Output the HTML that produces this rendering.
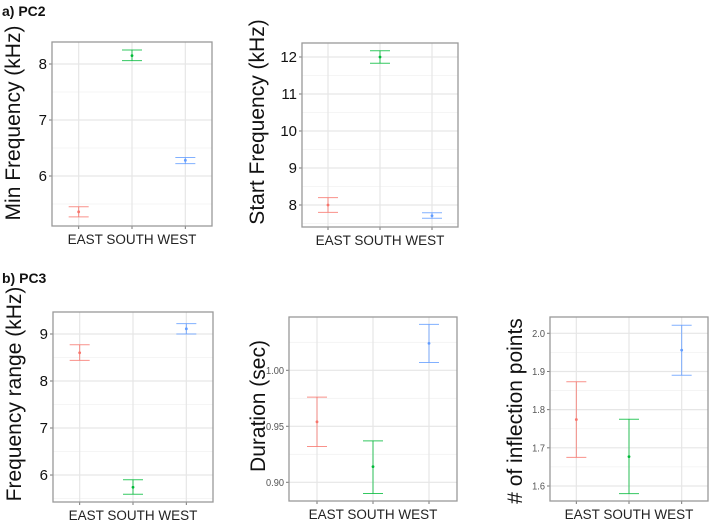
<!DOCTYPE html>
<html><head><meta charset="utf-8"><style>
html,body{margin:0;padding:0;background:#fff;}
svg{display:block;font-family:"Liberation Sans",sans-serif;}
</style></head><body>
<svg id="c" width="709" height="523" viewBox="0 0 709 523">
<text x="2" y="16" font-size="14" font-weight="bold" fill="#111">a) PC2</text>
<text x="2" y="283" font-size="14" font-weight="bold" fill="#111">b) PC3</text>
</svg>
<script>
const categories = ["EAST","SOUTH","WEST"];
const colors = ["#F8766D","#00BA38","#619CFF"];
// Min Frequency
const minFreqMean = [5.36, 8.15, 6.28];
const minFreqLo = [5.27, 8.06, 6.22];
const minFreqHi = [5.45, 8.25, 6.33];
const minFreqTicks = [6, 7, 8];
// Start Frequency
const startFreqMean = [8.0, 12.0, 7.71];
const startFreqLo = [7.8, 11.83, 7.64];
const startFreqHi = [8.2, 12.17, 7.79];
const startFreqTicks = [8, 9, 10, 11, 12];
// Frequency range
const rangeMean = [8.60, 5.74, 9.11];
const rangeLo = [8.44, 5.59, 9.0];
const rangeHi = [8.77, 5.90, 9.22];
const rangeTicks = [6, 7, 8, 9];
// Duration
const durMean = [0.954, 0.914, 1.024];
const durLo = [0.932, 0.890, 1.007];
const durHi = [0.976, 0.937, 1.041];
const durTicks = ["0.90", "0.95", "1.00"];
// Inflection points
const inflMean = [1.774, 1.677, 1.956];
const inflLo = [1.675, 1.58, 1.89];
const inflHi = [1.873, 1.775, 2.021];
const inflTicks = ["1.6", "1.7", "1.8", "1.9", "2.0"];

const NS = "http://www.w3.org/2000/svg";
const svg = document.getElementById("c");
function mk(tag, attrs, parent){
  const e = document.createElementNS(NS, tag);
  for (const k in attrs) e.setAttribute(k, attrs[k]);
  (parent||svg).appendChild(e);
  return e;
}
function panel(name, box, dom, ticks, mean, lo, hi, title, titleX, titleY, big){
  const g = mk("g", {});
  
  
  const y = v => box.b - (v - dom[0]) / (dom[1] - dom[0]) * (box.b - box.t);
  const step = (box.r - box.l) / 3;
  const x = i => box.l + step * (i + 0.5);
  const tv = ticks.map(Number);
  const d = tv[1] - tv[0];
  for (let v = tv[0] - d/2; v <= dom[1]; v += d) {
    if (v < dom[0]) continue;
    mk("line", {x1: box.l, x2: box.r, y1: y(v), y2: y(v), stroke: "#f2f2f2", "stroke-width": 0.8}, g);
  }
  ticks.forEach(t => {
    const yy = y(Number(t));
    const gl = mk("line", {x1: box.l, x2: box.r, y1: yy, y2: yy, stroke: "#e6e6e6", "stroke-width": 1.2}, g);
    
    
    mk("line", {x1: box.l - 3, x2: box.l, y1: yy, y2: yy, stroke: "#777", "stroke-width": 1}, g);
    const tl = mk("text", {x: box.l - 5, y: yy + (big ? 5 : 3.5), "text-anchor": "end",
      "font-size": big ? 15 : 10.5, fill: big ? "#111" : "#555"}, g);
    if (!big) tl.setAttribute("transform", "translate(" + (box.l - 5) + ",0) scale(0.88,1) translate(" + (-(box.l - 5)) + ",0)");
    tl.textContent = t;
    
    
  });
  categories.forEach((c, i) => {
    mk("line", {x1: x(i), x2: x(i), y1: box.t, y2: box.b, stroke: "#e6e6e6", "stroke-width": 1.2}, g);
    mk("line", {x1: x(i), x2: x(i), y1: box.b, y2: box.b + 3, stroke: "#777", "stroke-width": 1}, g);
  });
  const fr = mk("rect", {x: box.l, y: box.t, width: box.r - box.l, height: box.b - box.t, fill: "none", stroke: "#999", "stroke-width": 1.3}, g);
  
  
  categories.forEach((c, i) => {
    const eb = mk("g", {stroke: colors[i], "stroke-width": 1, "stroke-opacity": 0.8, fill: "none"}, g);
    
    
    mk("line", {x1: x(i), x2: x(i), y1: y(hi[i]), y2: y(lo[i])}, eb);
    mk("line", {x1: x(i) - 10, x2: x(i) + 10, y1: y(hi[i]), y2: y(hi[i])}, eb);
    mk("line", {x1: x(i) - 10, x2: x(i) + 10, y1: y(lo[i]), y2: y(lo[i])}, eb);
    const pt = mk("circle", {cx: x(i), cy: y(mean[i]), r: 1.4, fill: colors[i], stroke: "none"}, g);
    
    
  });
  const xl = mk("text", {x: (box.l + box.r) / 2, y: box.b + 18, "text-anchor": "middle", "font-size": 13.5, fill: "#222"}, g);
  xl.textContent = categories.join(" ");
  
  
  const yt = mk("text", {x: 0, y: 0, "text-anchor": "middle", "font-size": 21, fill: "#111",
    transform: "translate(" + titleX + "," + titleY + ") rotate(-90)"}, g);
  yt.textContent = title;
  
  
}
panel("panel-min-frequency", {l: 52, r: 212, t: 42, b: 226}, [5.107, 8.393], minFreqTicks, minFreqMean, minFreqLo, minFreqHi, "Min Frequency (kHz)", 20, 123, true);
panel("panel-start-frequency", {l: 302, r: 458, t: 43, b: 227}, [7.405, 12.378], startFreqTicks, startFreqMean, startFreqLo, startFreqHi, "Start Frequency (kHz)", 264, 122, true);
panel("panel-frequency-range", {l: 53, r: 213, t: 312, b: 502}, [5.426, 9.468], rangeTicks, rangeMean, rangeLo, rangeHi, "Frequency range (kHz)", 21, 394, true);
panel("panel-duration", {l: 289, r: 457, t: 317, b: 501}, [0.8833, 1.0476], durTicks, durMean, durLo, durHi, "Duration (sec)", 265, 406, false);
panel("panel-inflection-points", {l: 550, r: 708, t: 317, b: 501}, [1.5607, 2.0427], inflTicks, inflMean, inflLo, inflHi, "# of inflection points", 522, 411, false);
</script>
</body></html>
